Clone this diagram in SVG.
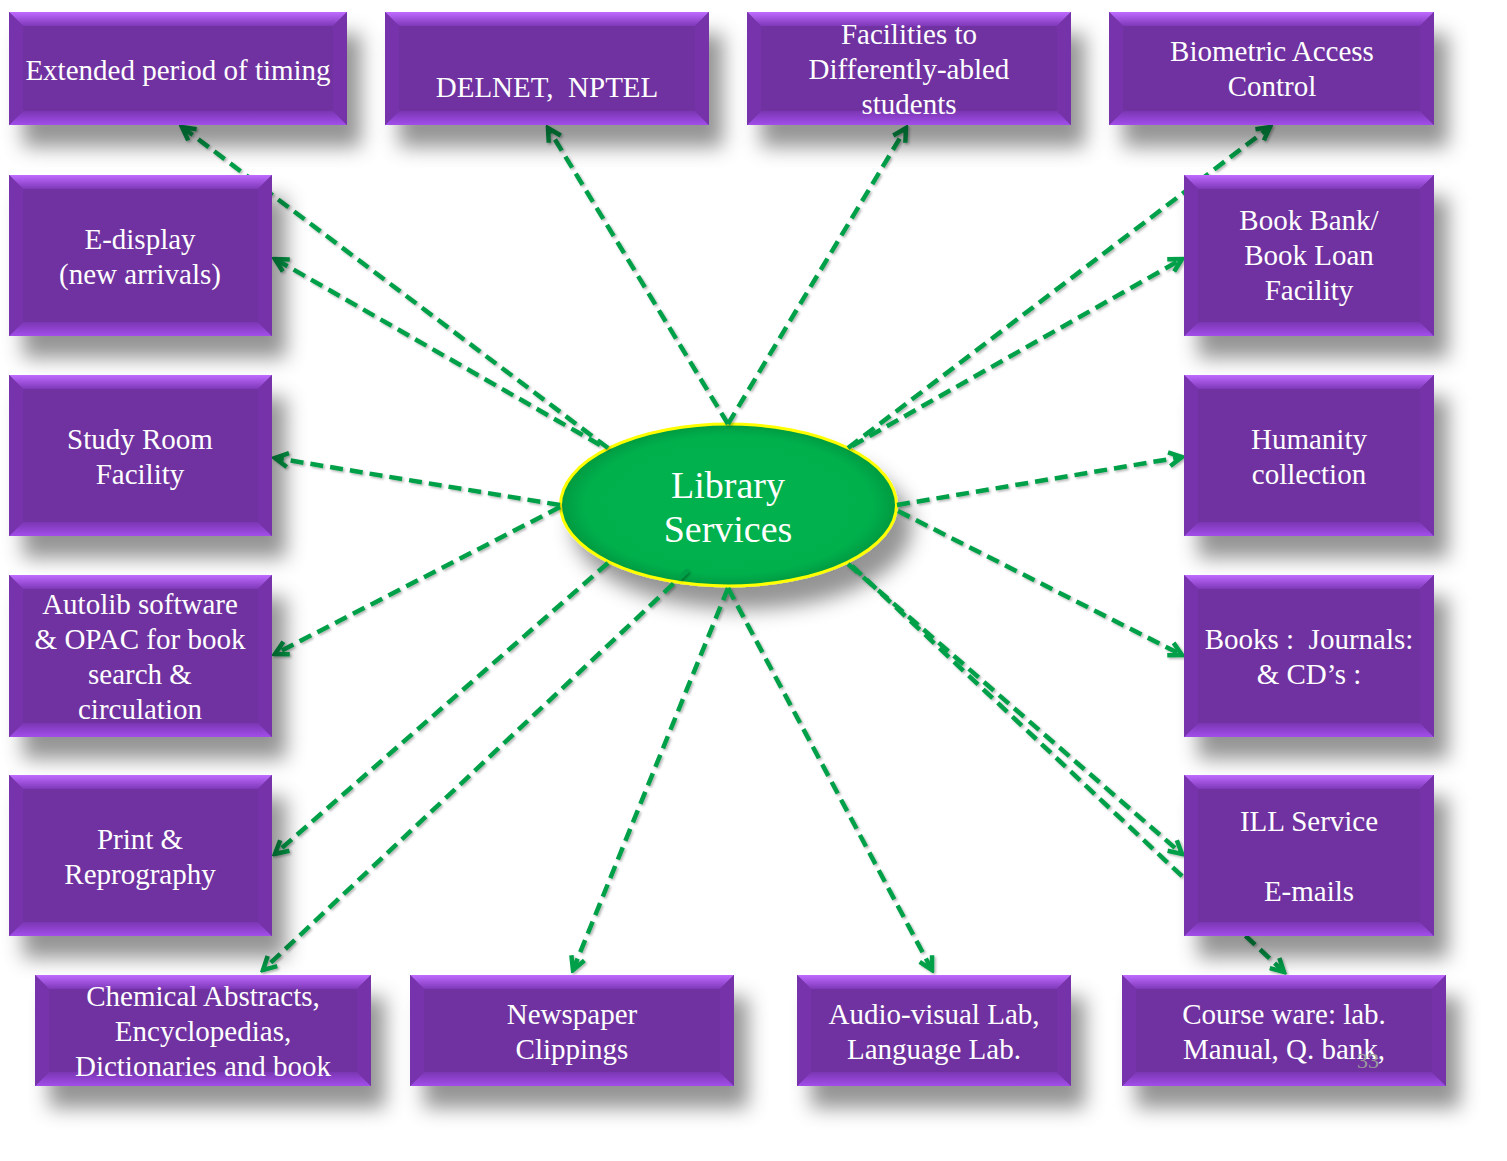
<svg xmlns="http://www.w3.org/2000/svg" width="1507" height="1161" viewBox="0 0 1507 1161">
<defs>
<filter id="boxShadow" x="-20%" y="-20%" width="150%" height="170%">
<feDropShadow dx="14" dy="22" stdDeviation="10" flood-color="#000" flood-opacity="0.42"/>
</filter>
<filter id="lineShadow" x="-5%" y="-5%" width="110%" height="110%">
<feDropShadow dx="1.5" dy="1.5" stdDeviation="1" flood-color="#000" flood-opacity="0.3"/>
</filter>
<linearGradient id="gTop" x1="0" y1="0" x2="0" y2="1">
<stop offset="0" stop-color="#BF6BFF"/>
<stop offset="1" stop-color="#7E38B8"/>
</linearGradient>
<linearGradient id="gBot" x1="0" y1="0" x2="0" y2="1">
<stop offset="0" stop-color="#7A36B2"/>
<stop offset="1" stop-color="#A24EEA"/>
</linearGradient>
<radialGradient id="gEll" cx="0.5" cy="0.5" r="0.5">
<stop offset="0" stop-color="#00B24E"/>
<stop offset="0.85" stop-color="#00B04C"/>
<stop offset="1" stop-color="#009A40"/>
</radialGradient>
<marker id="arr" markerUnits="userSpaceOnUse" viewBox="0 0 20 20" refX="17" refY="10" markerWidth="20" markerHeight="20" orient="auto">
<path d="M4,3 L17,10 L4,17" fill="none" stroke="#00A04A" stroke-width="4.5" stroke-linejoin="miter"/>
</marker>
<style>
.base{fill:#7030A0;}
.top{fill:url(#gTop);}
.bot{fill:url(#gBot);}
.lft{fill:#7733AC;}
.rgt{fill:#7632A9;}
.box text{font-family:"Liberation Serif","Times New Roman",serif;font-size:29px;fill:#FFFFFF;text-anchor:middle;}
.conn path{fill:none;stroke:#00A04A;stroke-width:4.5;stroke-dasharray:13 7;marker-end:url(#arr);}
.center text{font-family:"Liberation Serif","Times New Roman",serif;font-size:38px;fill:#FFFFFF;text-anchor:middle;}
</style>
</defs>
<rect x="0" y="0" width="1507" height="1161" fill="#FFFFFF"/>

<g id="library-services" class="center">
<ellipse cx="728.5" cy="505" rx="168" ry="81" fill="url(#gEll)" stroke="#FFFF00" stroke-width="3" filter="url(#boxShadow)"/>
<text x="728" y="498">Library</text>
<text x="728" y="542">Services</text>
</g>

<g id="connectors" class="conn" filter="url(#lineShadow)">
<path d="M608,448 L182,127"/>
<path d="M600,445 L275,259"/>
<path d="M728,424 L548,128"/>
<path d="M728,424 L906,128"/>
<path d="M848,448 L1270,127"/>
<path d="M852,446 L1182,259"/>
<path d="M897,505 L1182,457"/>
<path d="M898,511 L1182,655"/>
<path d="M848,564 L1182,854"/>
<path d="M852,566 L1284,972"/>
<path d="M728,588 L932,970"/>
<path d="M728,588 L573,970"/>
<path d="M688,570 L263,970"/>
<path d="M608,563 L275,854"/>
<path d="M560,507 L275,654"/>
<path d="M560,505 L275,458"/>
</g>

<g id="extended-timing" class="box">
<rect class="base" x="9" y="12" width="338" height="113" filter="url(#boxShadow)"/>
<polygon class="top" points="9,12 347,12 333,26 23,26"/>
<polygon class="bot" points="9,125 347,125 333,111 23,111"/>
<polygon class="lft" points="9,12 23,26 23,111 9,125"/>
<polygon class="rgt" points="347,12 333,26 333,111 347,125"/>
<text x="178" y="80">Extended period of timing</text>
</g>

<g id="delnet-nptel" class="box">
<rect class="base" x="385" y="12" width="324" height="113" filter="url(#boxShadow)"/>
<polygon class="top" points="385,12 709,12 695,26 399,26"/>
<polygon class="bot" points="385,125 709,125 695,111 399,111"/>
<polygon class="lft" points="385,12 399,26 399,111 385,125"/>
<polygon class="rgt" points="709,12 695,26 695,111 709,125"/>
<text x="547" y="97" xml:space="preserve">DELNET,  NPTEL</text>
</g>

<g id="differently-abled" class="box">
<rect class="base" x="747" y="12" width="324" height="113" filter="url(#boxShadow)"/>
<polygon class="top" points="747,12 1071,12 1057,26 761,26"/>
<polygon class="bot" points="747,125 1071,125 1057,111 761,111"/>
<polygon class="lft" points="747,12 761,26 761,111 747,125"/>
<polygon class="rgt" points="1071,12 1057,26 1057,111 1071,125"/>
<text x="909" y="44">Facilities to</text>
<text x="909" y="79">Differently-abled</text>
<text x="909" y="114">students</text>
</g>

<g id="biometric" class="box">
<rect class="base" x="1109" y="12" width="325" height="113" filter="url(#boxShadow)"/>
<polygon class="top" points="1109,12 1434,12 1420,26 1123,26"/>
<polygon class="bot" points="1109,125 1434,125 1420,111 1123,111"/>
<polygon class="lft" points="1109,12 1123,26 1123,111 1109,125"/>
<polygon class="rgt" points="1434,12 1420,26 1420,111 1434,125"/>
<text x="1272" y="61">Biometric Access</text>
<text x="1272" y="96">Control</text>
</g>

<g id="e-display" class="box">
<rect class="base" x="9" y="175" width="263" height="161" filter="url(#boxShadow)"/>
<polygon class="top" points="9,175 272,175 258,189 23,189"/>
<polygon class="bot" points="9,336 272,336 258,322 23,322"/>
<polygon class="lft" points="9,175 23,189 23,322 9,336"/>
<polygon class="rgt" points="272,175 258,189 258,322 272,336"/>
<text x="140" y="249">E-display</text>
<text x="140" y="284">(new arrivals)</text>
</g>

<g id="study-room" class="box">
<rect class="base" x="9" y="375" width="263" height="161" filter="url(#boxShadow)"/>
<polygon class="top" points="9,375 272,375 258,389 23,389"/>
<polygon class="bot" points="9,536 272,536 258,522 23,522"/>
<polygon class="lft" points="9,375 23,389 23,522 9,536"/>
<polygon class="rgt" points="272,375 258,389 258,522 272,536"/>
<text x="140" y="449">Study Room</text>
<text x="140" y="484">Facility</text>
</g>

<g id="autolib" class="box">
<rect class="base" x="9" y="575" width="263" height="162" filter="url(#boxShadow)"/>
<polygon class="top" points="9,575 272,575 258,589 23,589"/>
<polygon class="bot" points="9,737 272,737 258,723 23,723"/>
<polygon class="lft" points="9,575 23,589 23,723 9,737"/>
<polygon class="rgt" points="272,575 258,589 258,723 272,737"/>
<text x="140" y="614">Autolib software</text>
<text x="140" y="649">&amp; OPAC for book</text>
<text x="140" y="684">search &amp;</text>
<text x="140" y="719">circulation</text>
</g>

<g id="print-reprography" class="box">
<rect class="base" x="9" y="775" width="263" height="161" filter="url(#boxShadow)"/>
<polygon class="top" points="9,775 272,775 258,789 23,789"/>
<polygon class="bot" points="9,936 272,936 258,922 23,922"/>
<polygon class="lft" points="9,775 23,789 23,922 9,936"/>
<polygon class="rgt" points="272,775 258,789 258,922 272,936"/>
<text x="140" y="849">Print &amp;</text>
<text x="140" y="884">Reprography</text>
</g>

<g id="book-bank" class="box">
<rect class="base" x="1184" y="175" width="250" height="161" filter="url(#boxShadow)"/>
<polygon class="top" points="1184,175 1434,175 1420,189 1198,189"/>
<polygon class="bot" points="1184,336 1434,336 1420,322 1198,322"/>
<polygon class="lft" points="1184,175 1198,189 1198,322 1184,336"/>
<polygon class="rgt" points="1434,175 1420,189 1420,322 1434,336"/>
<text x="1309" y="230">Book Bank/</text>
<text x="1309" y="265">Book Loan</text>
<text x="1309" y="300">Facility</text>
</g>

<g id="humanity" class="box">
<rect class="base" x="1184" y="375" width="250" height="161" filter="url(#boxShadow)"/>
<polygon class="top" points="1184,375 1434,375 1420,389 1198,389"/>
<polygon class="bot" points="1184,536 1434,536 1420,522 1198,522"/>
<polygon class="lft" points="1184,375 1198,389 1198,522 1184,536"/>
<polygon class="rgt" points="1434,375 1420,389 1420,522 1434,536"/>
<text x="1309" y="449">Humanity</text>
<text x="1309" y="484">collection</text>
</g>

<g id="books-journals" class="box">
<rect class="base" x="1184" y="575" width="250" height="162" filter="url(#boxShadow)"/>
<polygon class="top" points="1184,575 1434,575 1420,589 1198,589"/>
<polygon class="bot" points="1184,737 1434,737 1420,723 1198,723"/>
<polygon class="lft" points="1184,575 1198,589 1198,723 1184,737"/>
<polygon class="rgt" points="1434,575 1420,589 1420,723 1434,737"/>
<text x="1309" y="649" xml:space="preserve">Books :  Journals:</text>
<text x="1309" y="684">&amp; CD’s :</text>
</g>

<g id="ill-service" class="box">
<rect class="base" x="1184" y="775" width="250" height="161" filter="url(#boxShadow)"/>
<polygon class="top" points="1184,775 1434,775 1420,789 1198,789"/>
<polygon class="bot" points="1184,936 1434,936 1420,922 1198,922"/>
<polygon class="lft" points="1184,775 1198,789 1198,922 1184,936"/>
<polygon class="rgt" points="1434,775 1420,789 1420,922 1434,936"/>
<text x="1309" y="831">ILL Service</text>
<text x="1309" y="901">E-mails</text>
</g>

<g id="chemical-abstracts" class="box">
<rect class="base" x="35" y="975" width="336" height="111" filter="url(#boxShadow)"/>
<polygon class="top" points="35,975 371,975 357,989 49,989"/>
<polygon class="bot" points="35,1086 371,1086 357,1072 49,1072"/>
<polygon class="lft" points="35,975 49,989 49,1072 35,1086"/>
<polygon class="rgt" points="371,975 357,989 357,1072 371,1086"/>
<text x="203" y="1006">Chemical Abstracts,</text>
<text x="203" y="1041">Encyclopedias,</text>
<text x="203" y="1076">Dictionaries and book</text>
</g>

<g id="newspaper" class="box">
<rect class="base" x="410" y="975" width="324" height="111" filter="url(#boxShadow)"/>
<polygon class="top" points="410,975 734,975 720,989 424,989"/>
<polygon class="bot" points="410,1086 734,1086 720,1072 424,1072"/>
<polygon class="lft" points="410,975 424,989 424,1072 410,1086"/>
<polygon class="rgt" points="734,975 720,989 720,1072 734,1086"/>
<text x="572" y="1024">Newspaper</text>
<text x="572" y="1059">Clippings</text>
</g>

<g id="audio-visual" class="box">
<rect class="base" x="797" y="975" width="274" height="111" filter="url(#boxShadow)"/>
<polygon class="top" points="797,975 1071,975 1057,989 811,989"/>
<polygon class="bot" points="797,1086 1071,1086 1057,1072 811,1072"/>
<polygon class="lft" points="797,975 811,989 811,1072 797,1086"/>
<polygon class="rgt" points="1071,975 1057,989 1057,1072 1071,1086"/>
<text x="934" y="1024">Audio-visual Lab,</text>
<text x="934" y="1059">Language Lab.</text>
</g>

<g id="course-ware" class="box">
<rect class="base" x="1122" y="975" width="324" height="111" filter="url(#boxShadow)"/>
<polygon class="top" points="1122,975 1446,975 1432,989 1136,989"/>
<polygon class="bot" points="1122,1086 1446,1086 1432,1072 1136,1072"/>
<polygon class="lft" points="1122,975 1136,989 1136,1072 1122,1086"/>
<polygon class="rgt" points="1446,975 1432,989 1432,1072 1446,1086"/>
<text x="1284" y="1024">Course ware: lab.</text>
<text x="1284" y="1059">Manual, Q. bank,</text>
</g>

<text x="1357" y="1068" font-family="Liberation Serif, serif" font-size="22" fill="#9A9A9A">33</text>
</svg>
